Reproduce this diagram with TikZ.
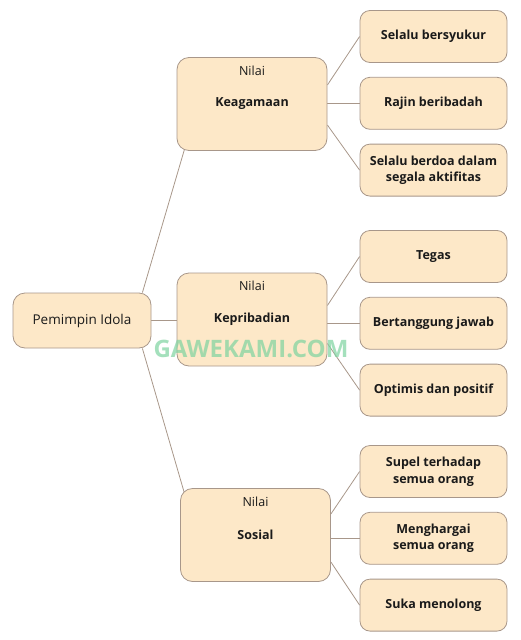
\documentclass[tikz,border=0pt]{standalone}
\usepackage{fontspec}
\setmainfont{Open Sans}
\usetikzlibrary{positioning,calc,backgrounds}
\definecolor{boxfill}{HTML}{FDE8C8}
\definecolor{boxline}{HTML}{A8978A}
\definecolor{inkdark}{HTML}{1A1A1A}
\definecolor{markgreen}{HTML}{7ED3A0}

\begin{document}
\begin{tikzpicture}[x=1pt, y=-1pt,
    rootbox/.style={draw=boxline, fill=boxfill, rounded corners=12pt, line width=0.8pt, minimum width=138pt, minimum height=55pt, text=inkdark, font=\fontsize{13.5}{16}\selectfont},
    nilaibox/.style={draw=boxline, fill=boxfill, rounded corners=12pt, line width=0.8pt, minimum width=150pt, minimum height=93pt, text=inkdark, font=\bfseries\fontsize{12.5}{15}\selectfont,
        label={[anchor=north, yshift=-5pt, text=inkdark, font=\fontsize{12.5}{15}\selectfont]north:Nilai}},
    itembox/.style={draw=boxline, fill=boxfill, rounded corners=10pt, line width=0.8pt, minimum width=147pt, minimum height=52pt, align=center, text=inkdark, font=\bfseries\fontsize{12.5}{16.5}\selectfont},
    link/.style={draw=boxline, line width=0.8pt}]
    \useasboundingbox (0,0) rectangle (521,640);

    % root and the three values
    \node[rootbox] (root) at (82,320.5) {Pemimpin Idola};
    \node[nilaibox] (agama) at (252,104) {Keagamaan};
    \node[nilaibox] (pribadi) at (252,319.5) {Kepribadian};
    \node[nilaibox] (sosial) at (255.5,535) {Sosial};

    % right column
    \node[itembox] (syukur) at (433.5,36.5) {Selalu bersyukur};
    \node[itembox, below=14pt of syukur] (ibadah) {Rajin beribadah};
    \node[itembox, below=14pt of ibadah] (berdoa) {Selalu berdoa dalam\\segala aktifitas};

    \node[itembox] (tegas) at (433.5,256.5) {Tegas};
    \node[itembox, below=14pt of tegas] (tanggung) {Bertanggung jawab};
    \node[itembox, below=14pt of tanggung] (optimis) {Optimis dan positif};

    \node[itembox] (supel) at (433.5,471.5) {Supel terhadap\\semua orang};
    \node[itembox, below=14pt of supel] (hargai) {Menghargai\\semua orang};
    \node[itembox, below=14pt of hargai] (tolong) {Suka menolong};

    \begin{scope}[on background layer]
        \draw[link] ([xshift=-9pt]root.north east) -- ([shift={(8pt,2pt)}]agama.south west);
        \draw[link] (root.east) -- (root.east -| pribadi.west);
        \draw[link] ([xshift=-9pt]root.south east) -- ([shift={(4pt,-4pt)}]sosial.north west);

        \draw[link] ([yshift=19pt]agama.east) -- (syukur.west);
        \draw[link] (ibadah.west -| agama.east) -- (ibadah.west);
        \draw[link] ([yshift=-21pt]agama.east) -- (berdoa.west);

        \draw[link] ([yshift=14pt]pribadi.east) -- (tegas.west);
        \draw[link] (tanggung.west -| pribadi.east) -- (tanggung.west);
        \draw[link] ([yshift=-24pt]pribadi.east) -- (optimis.west);

        \draw[link] ([yshift=21pt]sosial.east) -- (supel.west);
        \draw[link] (hargai.west -| sosial.east) -- (hargai.west);
        \draw[link] ([yshift=-27pt]sosial.east) -- (tolong.west);
    \end{scope}

    \node[font=\bfseries\fontsize{24}{26}\selectfont, text=markgreen, opacity=0.7] (mark) at (251,349) {GAWEKAMI.COM};
\end{tikzpicture}
\end{document}
